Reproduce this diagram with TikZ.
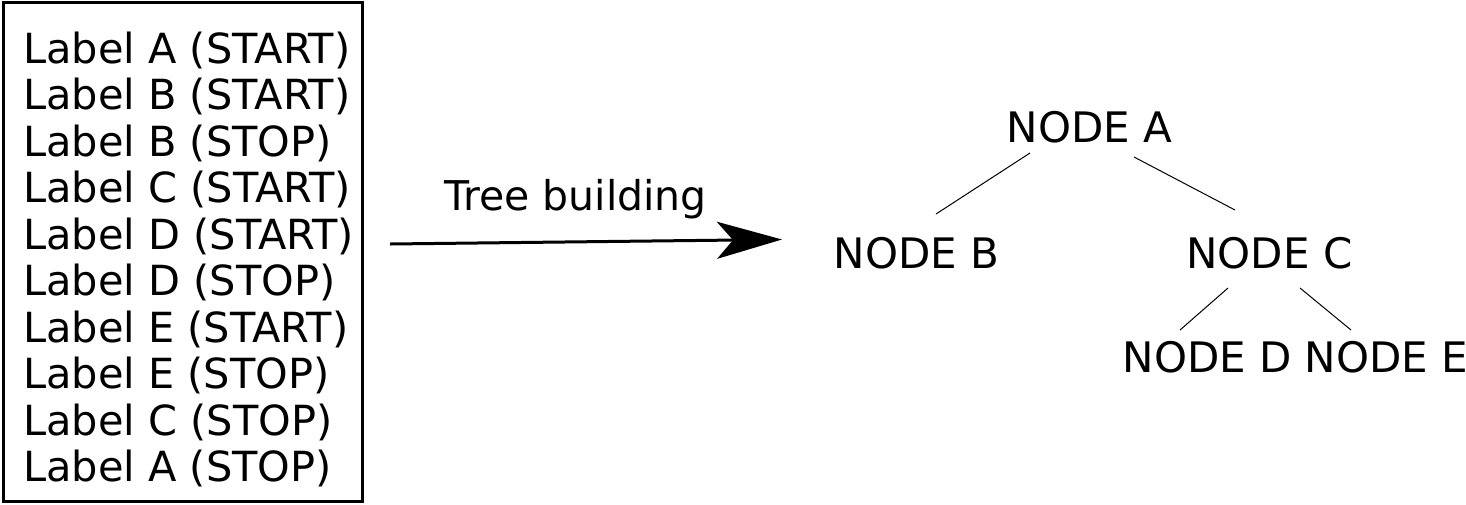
\documentclass[tikz,border=0pt]{standalone}
\usepackage{fontspec}
\setmainfont{DejaVu Sans}
\usetikzlibrary{arrows.meta}
\begin{document}
\begin{tikzpicture}[x=1pt,y=-1pt,
  lbl/.style={anchor=base west,inner sep=0pt,font=\fontsize{41.5}{46}\selectfont},
  tnode/.style={anchor=center,inner sep=0pt,font=\fontsize{42}{46}\selectfont},
  edge/.style={line width=1pt},
  bigarrow/.style={line width=3pt,-{Stealth[length=65pt,width=37pt,inset=16pt]}}]
\useasboundingbox (0,0) rectangle (1466,504);
\draw[line width=3pt] (3,2) rectangle (362,501);
\foreach \t [count=\i from 0] in {Label A (START),Label B (START),Label B (STOP),Label C (START),Label D (START),Label D (STOP),Label E (START),Label E (STOP),Label C (STOP),Label A (STOP)}
  \node[lbl] (l\i) at (23,{63+46.5*\i}) {\t};
\node[lbl,font=\fontsize{41}{46}\selectfont] (tb) at (444,210) {Tree building};
\coordinate (s) at (390,244);
\coordinate (t) at (782,239.5);
\draw[bigarrow] (s) -- (t);
\node[tnode] (na) at (1089.5,127) {NODE A};
\node[tnode] (nb) at (916.5,253) {NODE B};
\node[tnode] (nc) at (1269.5,253) {NODE C};
\node[tnode] (nd) at (1207.5,357) {NODE D};
\node[tnode] (ne) at (1386.5,357) {NODE E};
\coordinate (ab1) at (1030,153); \coordinate (ab2) at (936,214);
\coordinate (ac1) at (1134,157); \coordinate (ac2) at (1235,210);
\coordinate (cd1) at (1228,288); \coordinate (cd2) at (1180,330);
\coordinate (ce1) at (1300,288); \coordinate (ce2) at (1351,330);
\draw[edge] (ab1) -- (ab2);
\draw[edge] (ac1) -- (ac2);
\draw[edge] (cd1) -- (cd2);
\draw[edge] (ce1) -- (ce2);
\end{tikzpicture}
\end{document}
